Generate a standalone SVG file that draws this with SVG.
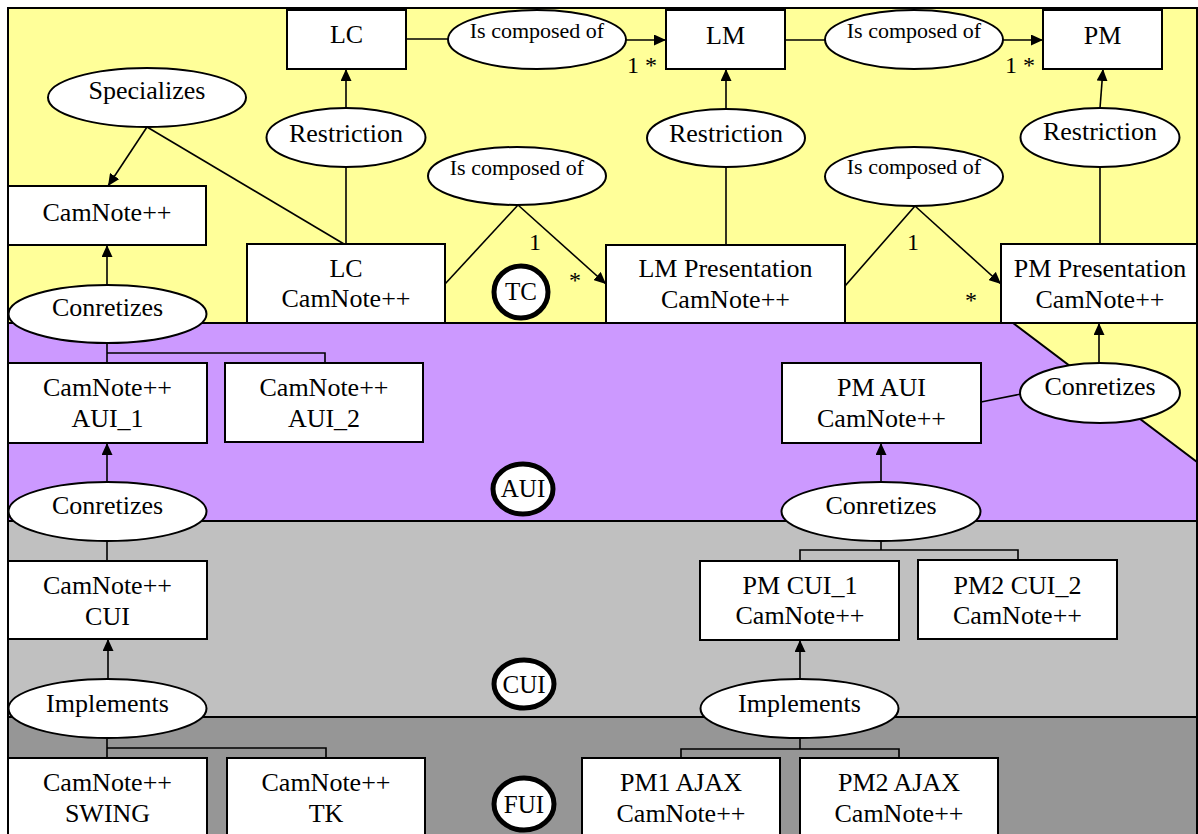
<svg xmlns="http://www.w3.org/2000/svg" width="1198" height="834" viewBox="0 0 1198 834">
<defs>
<marker id="arr" markerUnits="userSpaceOnUse" markerWidth="12" markerHeight="11" refX="12" refY="5.5" orient="auto">
<path d="M0,0 L12,5.5 L0,11 z" fill="#000"/>
</marker>
<style>
.reg{stroke:#000;stroke-width:2}
.box{fill:#fff;stroke:#000;stroke-width:2}
.ell{fill:#fff;stroke:#000;stroke-width:2}
.lay{fill:#fff;stroke:#000;stroke-width:5}
.ln{fill:none;stroke:#000;stroke-width:1.6}
.ar{fill:none;stroke:#000;stroke-width:1.6;marker-end:url(#arr)}
text{font-family:"Liberation Serif","Times New Roman",serif;font-size:26px;fill:#000;text-anchor:middle}
.sm{font-size:22px}
.lb{font-size:24px;text-anchor:start}
.lt{font-size:25px}
</style>
</defs>
<rect width="1198" height="834" fill="#fff"/>
<g id="layers">
<rect class="reg" x="8" y="8" width="1189" height="513" fill="#FFFF99"/>
<polygon class="reg" points="8,323 1013,323 1197,462 1197,521 8,521" fill="#CC99FF"/>
<rect class="reg" x="8" y="521" width="1189" height="196" fill="#C0C0C0"/>
<rect class="reg" x="8" y="717" width="1189" height="130" fill="#969696"/>
</g>
<g id="connectors">
<line class="ln" x1="406" y1="39" x2="448" y2="39"/>
<line class="ar" x1="626" y1="40" x2="666" y2="40"/>
<line class="ln" x1="785" y1="40" x2="825" y2="40"/>
<line class="ar" x1="1003" y1="40" x2="1043" y2="40"/>
<line class="ar" x1="346" y1="108" x2="346" y2="69"/>
<line class="ln" x1="346" y1="167" x2="346" y2="244"/>
<line class="ar" x1="726" y1="109" x2="726" y2="69"/>
<line class="ln" x1="726" y1="167" x2="726" y2="245"/>
<line class="ar" x1="1100" y1="108" x2="1103" y2="69"/>
<line class="ln" x1="1100" y1="167" x2="1100" y2="244"/>
<line class="ar" x1="147" y1="127" x2="108" y2="186"/>
<line class="ln" x1="147" y1="127" x2="344" y2="244"/>
<line class="ln" x1="518" y1="205" x2="445" y2="284"/>
<line class="ar" x1="518" y1="205" x2="606" y2="284"/>
<line class="ln" x1="915" y1="206" x2="845" y2="286"/>
<line class="ar" x1="915" y1="206" x2="1001" y2="284"/>
<line class="ar" x1="107" y1="285" x2="107" y2="245"/>
<polyline class="ln" points="107,343 107,363"/>
<polyline class="ln" points="107,353 325,353 325,363"/>
<line class="ar" x1="107" y1="482" x2="107" y2="443"/>
<line class="ln" x1="107" y1="541" x2="107" y2="561"/>
<line class="ar" x1="108" y1="679" x2="108" y2="639"/>
<polyline class="ln" points="107,738 107,758"/>
<polyline class="ln" points="107,748 326,748 326,758"/>
<line class="ar" x1="1099" y1="363" x2="1099" y2="323"/>
<line class="ln" x1="981" y1="402" x2="1021" y2="394"/>
<line class="ar" x1="881" y1="482" x2="881" y2="443"/>
<polyline class="ln" points="881,541 881,550"/>
<polyline class="ln" points="800,561 800,550 1018,550 1018,560"/>
<line class="ar" x1="800" y1="679" x2="800" y2="640"/>
<polyline class="ln" points="800,738 800,749"/>
<polyline class="ln" points="681,758 681,749 899,749 899,758"/>
</g>
<g id="labels">
<text class="lb" x="627" y="73">1 *</text>
<text class="lb" x="1005" y="73">1 *</text>
<text class="lb" x="529" y="250">1</text>
<text class="lb" x="907" y="250">1</text>
<text class="lb" x="569" y="288">*</text>
<text class="lb" x="965" y="308">*</text>
</g>
<g id="n_LC"><rect class="box" x="287" y="10" width="119" height="59"/><text x="346.5" y="43">LC</text></g>
<g id="n_LM"><rect class="box" x="666" y="10" width="119" height="59"/><text x="725.5" y="44">LM</text></g>
<g id="n_PM"><rect class="box" x="1043" y="10" width="119" height="59"/><text x="1102.5" y="44">PM</text></g>
<g id="e_comp1"><ellipse class="ell" cx="537" cy="39.5" rx="89" ry="29.5"/><text class="sm" x="537" y="38">Is composed of</text></g>
<g id="e_comp2"><ellipse class="ell" cx="914" cy="39.5" rx="89" ry="29.5"/><text class="sm" x="914" y="38">Is composed of</text></g>
<g id="e_spec"><ellipse class="ell" cx="147" cy="97.5" rx="99" ry="29.5"/><text x="147" y="99">Specializes</text></g>
<g id="e_restr_lc"><ellipse class="ell" cx="346" cy="137.5" rx="79.5" ry="29.5"/><text x="346" y="141.5">Restriction</text></g>
<g id="e_restr_lm"><ellipse class="ell" cx="726" cy="138" rx="79" ry="29"/><text x="726" y="141.5">Restriction</text></g>
<g id="e_restr_pm"><ellipse class="ell" cx="1100" cy="137.5" rx="79.5" ry="29.5"/><text x="1100" y="140">Restriction</text></g>
<g id="n_camnote"><rect class="box" x="8" y="186" width="198" height="59"/><text x="107" y="220.5">CamNote++</text></g>
<g id="e_comp3"><ellipse class="ell" cx="517" cy="176" rx="89" ry="29"/><text class="sm" x="517" y="175">Is composed of</text></g>
<g id="e_comp4"><ellipse class="ell" cx="914" cy="176.5" rx="89" ry="29.5"/><text class="sm" x="914" y="174">Is composed of</text></g>
<g id="n_lc_camnote"><rect class="box" x="247" y="244" width="198" height="79"/><text x="346" y="276.5">LC</text><text x="346" y="307">CamNote++</text></g>
<g id="n_lm_pres"><rect class="box" x="606" y="245" width="239" height="78"/><text x="725.5" y="277">LM Presentation</text><text x="725.5" y="308">CamNote++</text></g>
<g id="n_pm_pres"><rect class="box" x="1001" y="244" width="196" height="79"/><text x="1100" y="277">PM Presentation</text><text x="1100" y="307.5">CamNote++</text></g>
<g id="l_TC"><ellipse class="lay" cx="521" cy="292" rx="27" ry="26"/><text class="lt" x="521" y="300">TC</text></g>
<g id="e_conr1"><ellipse class="ell" cx="107.5" cy="314" rx="99" ry="29"/><text x="107.5" y="316">Conretizes</text></g>
<g id="n_aui1"><rect class="box" x="8" y="363" width="199" height="80"/><text x="107.5" y="396">CamNote++</text><text x="107.5" y="426.5">AUI_1</text></g>
<g id="n_aui2"><rect class="box" x="225" y="363" width="198" height="79"/><text x="324" y="396">CamNote++</text><text x="324" y="426.5">AUI_2</text></g>
<g id="n_pm_aui"><rect class="box" x="782" y="363" width="199" height="80"/><text x="881.5" y="396">PM AUI</text><text x="881.5" y="427">CamNote++</text></g>
<g id="e_conr3"><ellipse class="ell" cx="1100" cy="393" rx="80" ry="30"/><text x="1100" y="395">Conretizes</text></g>
<g id="l_AUI"><ellipse class="lay" cx="523" cy="489" rx="30" ry="25"/><text class="lt" x="523" y="497">AUI</text></g>
<g id="e_conr2"><ellipse class="ell" cx="107.5" cy="511.5" rx="99" ry="29.5"/><text x="107.5" y="514">Conretizes</text></g>
<g id="e_conr4"><ellipse class="ell" cx="881" cy="511.5" rx="99.5" ry="29.5"/><text x="881" y="514">Conretizes</text></g>
<g id="n_cui"><rect class="box" x="8" y="561" width="199" height="78"/><text x="107.5" y="594">CamNote++</text><text x="107.5" y="625">CUI</text></g>
<g id="n_pm_cui1"><rect class="box" x="700" y="561" width="199" height="79"/><text x="800" y="594">PM CUI_1</text><text x="800" y="624">CamNote++</text></g>
<g id="n_pm2_cui2"><rect class="box" x="918" y="560" width="199" height="79"/><text x="1017.5" y="594">PM2 CUI_2</text><text x="1017.5" y="624">CamNote++</text></g>
<g id="l_CUI"><ellipse class="lay" cx="524" cy="684" rx="30" ry="24"/><text class="lt" x="524" y="693">CUI</text></g>
<g id="e_impl1"><ellipse class="ell" cx="107.5" cy="708.5" rx="99" ry="29.5"/><text x="107.5" y="711.5">Implements</text></g>
<g id="e_impl2"><ellipse class="ell" cx="799.5" cy="708.5" rx="99" ry="29.5"/><text x="799.5" y="711.5">Implements</text></g>
<g id="n_swing"><rect class="box" x="8" y="758" width="199" height="80"/><text x="107.5" y="790.5">CamNote++</text><text x="107.5" y="822">SWING</text></g>
<g id="n_tk"><rect class="box" x="227" y="758" width="198" height="80"/><text x="326" y="790.5">CamNote++</text><text x="326" y="822">TK</text></g>
<g id="l_FUI"><ellipse class="lay" cx="524" cy="804" rx="30" ry="26"/><text class="lt" x="524" y="813">FUI</text></g>
<g id="n_ajax1"><rect class="box" x="582" y="758" width="198" height="80"/><text x="681" y="790.5">PM1 AJAX</text><text x="681" y="822">CamNote++</text></g>
<g id="n_ajax2"><rect class="box" x="800" y="758" width="198" height="80"/><text x="899" y="790.5">PM2 AJAX</text><text x="899" y="822">CamNote++</text></g>
</svg>
